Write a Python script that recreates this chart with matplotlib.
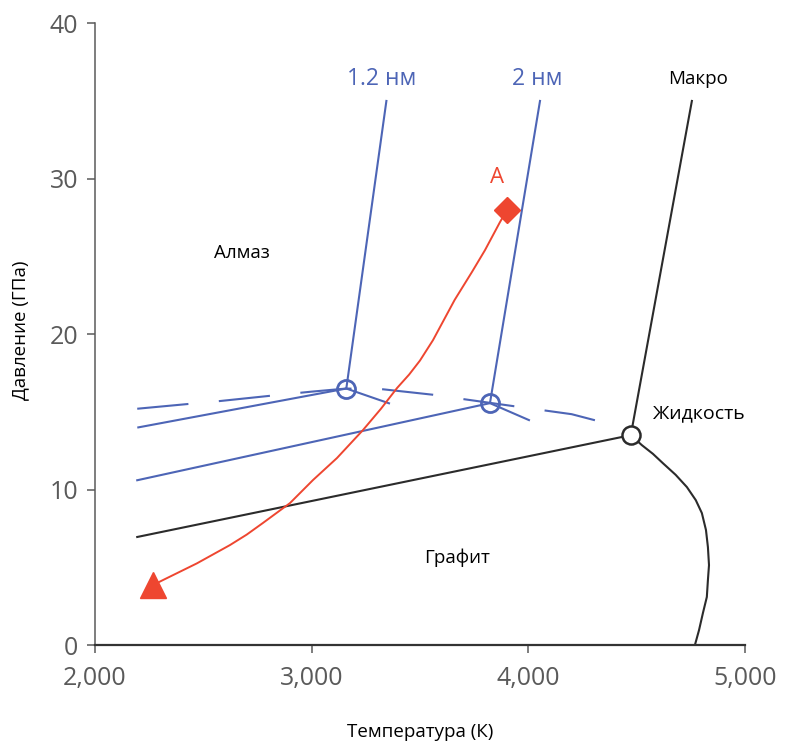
import matplotlib
matplotlib.use("Agg")
import matplotlib.pyplot as plt

plt.rcParams["font.family"] = ["Open Sans", "DejaVu Sans"]
plt.rcParams["lines.scale_dashes"] = False

BLUE = "#4d65b6"
RED = "#ee4630"
BLACK = "#2b2b2b"
GREY = "#5a5a5a"

# граница графит/алмаз для наночастиц 1.2 нм
nm12_T = [2200, 3160, 3345]
nm12_P = [14.0, 16.5, 35.0]
nm12_tail_T = [3160, 3357]
nm12_tail_P = [16.5, 15.55]

# граница для 2 нм
nm2_T = [2195, 3823, 4054]
nm2_P = [10.6, 15.56, 35.0]
nm2_tail_T = [3823, 4003]
nm2_tail_P = [15.56, 14.47]

# макроскопическая фазовая диаграмма
macro_T = [2195, 4473, 4755]
macro_P = [6.95, 13.5, 35.0]
melt_T = [4473, 4524, 4575, 4621, 4680, 4732, 4773, 4801, 4820, 4829, 4834,
          4829, 4824, 4806, 4788, 4769]
melt_P = [13.5, 12.86, 12.3, 11.7, 10.95, 10.16, 9.32, 8.49, 7.4, 6.3, 5.14,
          4.18, 3.09, 2.06, 0.96, 0.0]

# штриховая линия плавления наночастиц
dash_T = [2195, 2580, 2820, 3000, 3160, 3330, 3560, 3700, 3930, 4070, 4200, 4310]
dash_P = [15.2, 15.7, 16.05, 16.3, 16.5, 16.45, 16.1, 15.82, 15.37, 15.1, 14.85, 14.45]

# траектория сжатия
path_T = [2268, 2314, 2470, 2623, 2700, 2775, 2900, 3006, 3117, 3237, 3320,
          3394, 3450, 3500, 3560, 3660, 3740, 3800, 3869, 3901]
path_P = [3.86, 4.18, 5.25, 6.43, 7.1, 7.85, 9.13, 10.61, 12.03, 13.83, 15.2,
          16.53, 17.4, 18.3, 19.61, 22.2, 24.0, 25.4, 27.2, 27.97]

triple_T = [3160, 3823]
triple_P = [16.5, 15.56]
macro_triple = (4473, 13.5)

x_ticks = [2000, 3000, 4000, 5000]
x_ticklabels = ["2,000", "3,000", "4,000", "5,000"]
y_ticks = [0, 10, 20, 30, 40]

fig = plt.figure(figsize=(7.85, 7.42), dpi=100)
ax = fig.add_axes([0.121, 0.1307, 0.828, 0.838])

lw = 1.5
ax.plot(dash_T, dash_P, color=BLUE, lw=lw, dashes=(37, 22))
ax.plot(nm12_T, nm12_P, color=BLUE, lw=lw)
ax.plot(nm12_tail_T, nm12_tail_P, color=BLUE, lw=lw)
ax.plot(nm2_T, nm2_P, color=BLUE, lw=lw)
ax.plot(nm2_tail_T, nm2_tail_P, color=BLUE, lw=lw)
ax.plot(macro_T, macro_P, color=BLACK, lw=lw)
ax.plot(melt_T, melt_P, color=BLACK, lw=lw)

ax.plot(path_T, path_P, color=RED, lw=1.4)
ax.plot(path_T[0], path_P[0], marker="^", ms=19, color=RED, mec=RED)
ax.plot(path_T[-1], path_P[-1], marker="D", ms=13, color=RED, mec=RED)

ax.plot(triple_T, triple_P, "o", ms=13, mfc="none", mec=BLUE, mew=2, ls="none")
ax.plot(*macro_triple, "o", ms=13, mfc="white", mec=BLACK, mew=1.8, zorder=5)

ax.text(3324, 36.4, "1.2 нм", color=BLUE, fontsize=16.5, ha="center", va="center")
ax.text(4040, 36.4, "2 нм", color=BLUE, fontsize=16.5, ha="center", va="center")
ax.text(4783, 36.4, "Макро", color="black", fontsize=13.5, ha="center", va="center")
ax.text(3855, 30.1, "A", color=RED, fontsize=16, ha="center", va="center")
ax.text(2678, 25.2, "Алмаз", color="black", fontsize=13.5, ha="center", va="center")
ax.text(3670, 5.6, "Графит", color="black", fontsize=13.5, ha="center", va="center")
ax.text(4575, 14.9, "Жидкость", color="black", fontsize=14, ha="left", va="center")

ax.set_xlim(2000, 5000)
ax.set_ylim(0, 40)
ax.set_xticks(x_ticks)
ax.set_xticklabels(x_ticklabels)
ax.set_yticks(y_ticks)
ax.tick_params(axis="both", labelsize=18, labelcolor=GREY, color=GREY,
               length=6, width=1.1)
ax.tick_params(axis="x", pad=9)
ax.tick_params(axis="y", pad=6)

for side in ["top", "right"]:
    ax.spines[side].set_visible(False)
ax.spines["left"].set_color(GREY)
ax.spines["left"].set_linewidth(1.1)
ax.spines["bottom"].set_color("#333333")
ax.spines["bottom"].set_linewidth(1.6)

ax.set_xlabel("Температура (К)", fontsize=13.5, color="black", va="center")
ax.set_ylabel("Давление (ГПа)", fontsize=13.5, color="black", va="center")
ax.xaxis.set_label_coords(0.5, -0.14)
ax.yaxis.set_label_coords(-0.115, 0.506)

fig.savefig("out.png", dpi=100)
